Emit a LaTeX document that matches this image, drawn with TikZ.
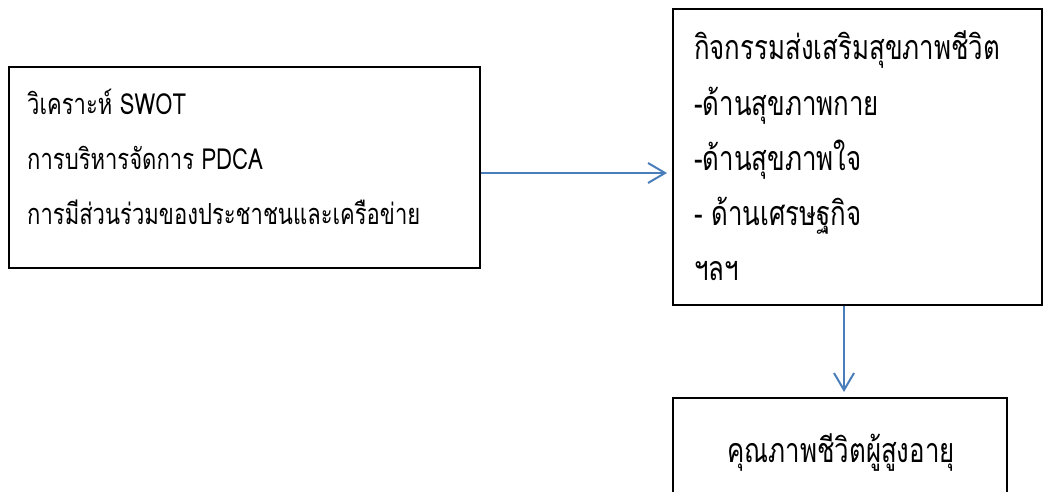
\documentclass[tikz,border=0pt]{standalone}
\usepackage{fontspec}
\newfontfamily\thaifont[Script=Thai,FakeStretch=0.76]{Loma}
\usetikzlibrary{arrows.meta}
\definecolor{connblue}{RGB}{74,126,187}
\begin{document}
\begin{tikzpicture}[x=1pt,y=-1pt,
  boxstyle/.style={draw=black,line width=2pt,rectangle,inner sep=0pt},
  txt/.style={anchor=base west,inner sep=0pt,font=\thaifont\fontsize{29}{33}\selectfont},
  txtbig/.style={txt,font=\thaifont\fontsize{34}{38}\selectfont},
  conn/.style={draw=connblue,line width=2pt,shorten >=5pt,-{Straight Barb[length=17pt,width=20pt,line width=2pt]}}]
\useasboundingbox (0,0) rectangle (1043,492);
\clip (0,0) rectangle (1043,492);
\node[boxstyle,minimum width=471pt,minimum height=201pt] (b1) at (244.5,167.5) {};
\node[boxstyle,minimum width=369pt,minimum height=296pt] (b2) at (857.5,157) {};
\node[boxstyle,minimum width=334pt,minimum height=132pt] (b3) at (840,464) {};
\node[txt] (t11) at (27,114) {วิเคราะห์ SWOT};
\node[txt] (t12) at (27,169) {การบริหารจัดการ PDCA};
\node[txt] (t13) at (27,224) {การมีส่วนร่วมของประชาชนและเครือข่าย};
\node[txtbig] (t21) at (694,60) {กิจกรรมส่งเสริมสุขภาพชีวิต};
\node[txtbig] (t22) at (694,115) {-ด้านสุขภาพกาย};
\node[txtbig] (t23) at (694,170) {-ด้านสุขภาพใจ};
\node[txtbig] (t24) at (694,225) {- ด้านเศรษฐกิจ};
\node[txtbig] (t25) at (694,280) {ฯลฯ};
\node[txtbig,anchor=base] (t31) at (841,462) {คุณภาพชีวิตผู้สูงอายุ};
\draw[conn] ([yshift=-5.5pt]b1.east) -- ([yshift=-5.5pt]b1.east -| b2.west);
\draw[conn] ([xshift=-13.5pt]b2.south) -- ([xshift=-13.5pt]b2.south |- b3.north);
\end{tikzpicture}
\end{document}
